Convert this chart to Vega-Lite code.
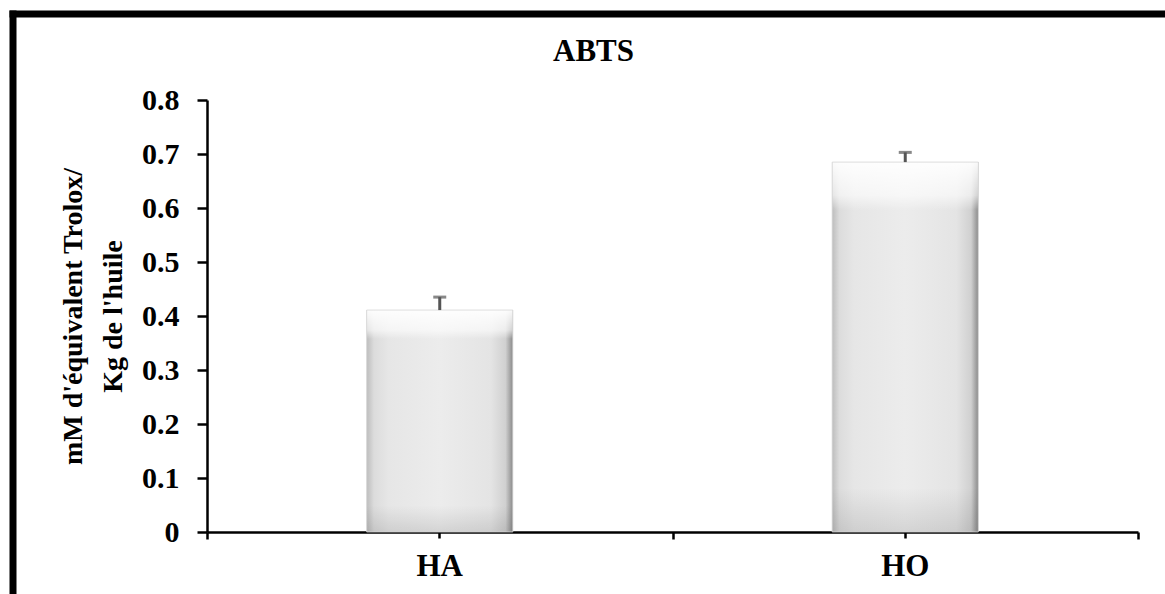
{
  "$schema": "https://vega.github.io/schema/vega-lite/v6.json",
  "width": 1165,
  "height": 594,
  "autosize": {"type": "none"},
  "padding": 0,
  "background": "white",
  "config": {"view": {"stroke": null}, "font": "Liberation Serif"},
  "title": {"text": "ABTS", "orient": "top", "anchor": "middle", "frame": "group", "offset": -92, "baseline": "alphabetic", "dx": 11, "fontSize": 31, "fontWeight": "bold", "font": "Liberation Serif", "color": "black"},
  "data": {"values": [
    {"group": "HA", "value": 0.411, "upper": 0.435},
    {"group": "HO", "value": 0.685, "upper": 0.703}
  ]},
  "resolve": {"scale": {"x": "independent", "y": "independent"}, "axis": {"x": "independent", "y": "independent"}},
  "layer": [
    {
      "encoding": {
        "x": {"field": "group", "type": "nominal",
          "scale": {"domain": ["HA", "HO"], "range": [207, 1138], "paddingInner": 0.686, "paddingOuter": 0.343},
          "axis": {"orient": "bottom", "offset": -62, "domainColor": "black", "domainWidth": 2.5, "tickColor": "black", "tickWidth": 2.5, "tickSize": 6, "labelPadding": 13, "labelFont": "Liberation Serif", "labelFontSize": 31, "labelFontWeight": "bold", "labelColor": "black", "labelAngle": 0, "title": null, "grid": false}},
        "y": {"field": "value", "type": "quantitative",
          "scale": {"domain": [0, 0.8], "range": [532, 100]},
          "axis": {"orient": "left", "offset": -207, "values": [0, 0.1, 0.2, 0.3, 0.4, 0.5, 0.6, 0.7, 0.8], "format": "~g", "grid": false, "domainColor": "black", "domainWidth": 2.5, "tickColor": "black", "tickWidth": 2.5, "tickSize": 10, "labelPadding": 18, "labelFont": "Liberation Serif", "labelFontWeight": "bold", "labelFontSize": 30, "labelColor": "black",
            "title": ["mM d'équivalent Trolox/", "Kg de l'huile"], "titleFont": "Liberation Serif", "titleFontWeight": "bold", "titleFontSize": 28, "titleLineHeight": 40, "titleColor": "black", "titleAngle": -90, "titleAlign": "center", "titleBaseline": "middle", "titleX": -134, "titleY": 316}}
      },
      "layer": [
        {"mark": {"type": "bar", "color": {"gradient": "linear", "x1": 0, "x2": 1, "y1": 0, "y2": 0, "stops": [
          {"offset": 0, "color": "#bdbdbd"}, {"offset": 0.05, "color": "#dcdcdc"}, {"offset": 0.15, "color": "#e6e6e6"}, {"offset": 0.5, "color": "#ececec"}, {"offset": 0.85, "color": "#e4e4e4"}, {"offset": 0.95, "color": "#d0d0d0"}, {"offset": 1, "color": "#8a8a8a"}]}}},
        {"mark": {"type": "bar", "color": {"gradient": "linear", "x1": 0, "x2": 0, "y1": 0, "y2": 1, "stops": [
          {"offset": 0, "color": "rgba(255,255,255,0.95)"}, {"offset": 0.09, "color": "rgba(255,255,255,0.6)"}, {"offset": 0.13, "color": "rgba(255,255,255,0)"}, {"offset": 0.88, "color": "rgba(0,0,0,0)"}, {"offset": 1, "color": "rgba(0,0,0,0.1)"}]}, "stroke": "#d4d4d4", "strokeWidth": 0.8}},
        {"mark": {"type": "rule", "color": "#555555", "strokeWidth": 3}, "encoding": {"y2": {"field": "upper"}}},
        {"mark": {"type": "tick", "color": "#555555", "size": 13, "thickness": 3},
          "encoding": {"y": {"field": "upper", "type": "quantitative",
            "scale": {"domain": [0, 0.8], "range": [532, 100]},
            "axis": {"orient": "left", "offset": -207, "values": [0, 0.1, 0.2, 0.3, 0.4, 0.5, 0.6, 0.7, 0.8], "format": "~g", "grid": false, "domainColor": "black", "domainWidth": 2.5, "tickColor": "black", "tickWidth": 2.5, "tickSize": 10, "labelPadding": 18, "labelFont": "Liberation Serif", "labelFontWeight": "bold", "labelFontSize": 30, "labelColor": "black",
              "title": ["mM d'équivalent Trolox/", "Kg de l'huile"], "titleFont": "Liberation Serif", "titleFontWeight": "bold", "titleFontSize": 28, "titleLineHeight": 40, "titleColor": "black", "titleAngle": -90, "titleAlign": "center", "titleBaseline": "middle", "titleX": -134, "titleY": 316}}}}
      ]
    },
    {
      "mark": {"type": "point", "opacity": 0},
      "encoding": {
        "x": {"datum": 0, "type": "quantitative", "scale": {"domain": [0, 2], "range": [207, 1138], "zero": false, "nice": false},
          "axis": {"orient": "bottom", "offset": -62, "domain": false, "labels": false, "values": [0, 1, 2], "tickSize": 7, "tickWidth": 2.5, "tickColor": "black", "title": null, "grid": false}}
      }
    },
    {
      "mark": {"type": "point", "opacity": 0},
      "encoding": {
        "x": {"datum": 0, "type": "quantitative", "scale": {"domain": [0, 1], "range": [9, 1165], "zero": false, "nice": false},
          "axis": {"orient": "top", "offset": -13.5, "domainColor": "black", "domainWidth": 7, "ticks": false, "labels": false, "title": null, "grid": false}},
        "y": {"datum": 0, "type": "quantitative", "scale": {"domain": [0, 1], "range": [594, 10], "zero": false, "nice": false},
          "axis": {"orient": "left", "offset": -12.5, "domainColor": "black", "domainWidth": 7, "ticks": false, "labels": false, "title": null, "grid": false}}
      }
    }
  ]
}
